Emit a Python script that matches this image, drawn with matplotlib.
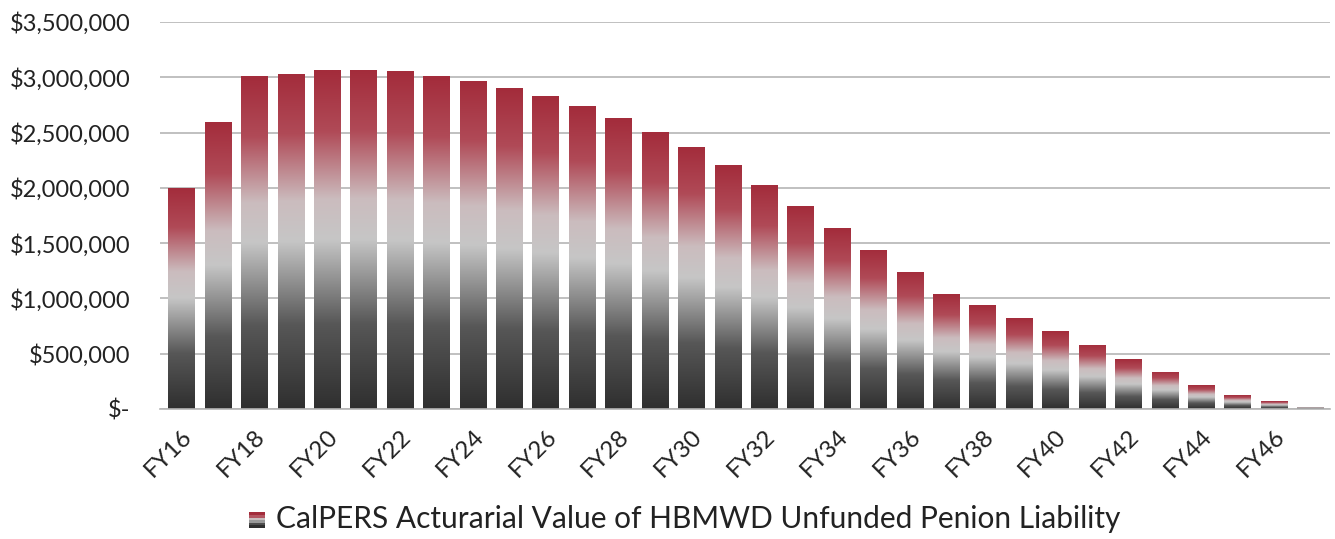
import numpy as np
import matplotlib
matplotlib.use("Agg")
import matplotlib.pyplot as plt
from matplotlib.colors import LinearSegmentedColormap
from matplotlib.patches import Rectangle
from matplotlib.legend_handler import HandlerBase
from matplotlib.ticker import FuncFormatter, MultipleLocator

plt.rcParams['font.family'] = ['Lato', 'DejaVu Sans']

years = [f"FY{y}" for y in range(16, 48)]
liability = [2000000, 2600000, 3010000, 3030000, 3065000, 3070000, 3055000, 3010000,
             2965000, 2900000, 2830000, 2740000, 2630000, 2505000, 2370000, 2205000,
             2025000, 1835000, 1635000, 1440000, 1240000, 1040000, 940000, 820000,
             705000, 580000, 450000, 335000, 215000, 125000, 70000, 20000]
legend_label = "CalPERS Acturarial Value of HBMWD Unfunded Penion Liability"

cmap = LinearSegmentedColormap.from_list(
    "grad", [(0.0, "#2f2f2f"), (0.25, "#575757"), (0.5, "#c6c6c6"),
             (0.62, "#cbbcbe"), (0.82, "#b04a57"), (1.0, "#a32c3b")])

fig = plt.figure(figsize=(13.35, 5.39), dpi=100)
ax = fig.add_axes([0.1195, 0.2412, 0.877, 0.7180])

x = np.arange(len(years))
bars = ax.bar(x, liability, width=0.72, color="none", edgecolor="none", zorder=2)
grad = np.linspace(0, 1, 256).reshape(-1, 1)
for b in bars:
    x0, y0 = b.get_x(), b.get_y()
    w, h = b.get_width(), b.get_height()
    im = ax.imshow(grad, cmap=cmap, origin="lower", aspect="auto",
                   extent=(x0, x0 + w, y0, y0 + h), zorder=2, interpolation="bilinear")
    im.set_clip_path(b)

ax.set_xlim(-0.6, len(years) - 1 + 0.55)
ax.set_ylim(0, 3500000)
ax.yaxis.set_major_locator(MultipleLocator(500000))
ax.yaxis.set_major_formatter(FuncFormatter(lambda v, p: "$-" if v == 0 else f"${v:,.0f}"))
ax.grid(axis="y", color="#b5b5b5", linewidth=1.2, zorder=0)
ax.set_axisbelow(True)
for s in ["top", "right", "left"]:
    ax.spines[s].set_visible(False)
ax.spines["bottom"].set_color("#b5b5b5")
ax.spines["bottom"].set_linewidth(1.2)
ax.tick_params(axis="y", length=0, labelsize=17, colors="#222222", pad=21)

ax.set_xticks(x[::2])
ax.set_xticklabels(years[::2], rotation=45, ha="right", rotation_mode="anchor")
ax.tick_params(axis="x", length=0, labelsize=17.5, colors="#222222", pad=12)


class GradHandler(HandlerBase):
    def create_artists(self, legend, orig_handle, xdescent, ydescent, width, height, fontsize, trans):
        arts = []
        n = 6
        side = height * 0.75
        x0 = xdescent + width - side
        for i in range(n):
            c = cmap(1 - i / (n - 1))
            r = Rectangle((x0, -ydescent + side * (n - 1 - i) / n), side, side / n,
                          facecolor=c, edgecolor="none", transform=trans)
            arts.append(r)
        return arts


handle = Rectangle((0, 0), 1, 1)
fig.legend([handle], [legend_label], handler_map={Rectangle: GradHandler()},
           loc="center", bbox_to_anchor=(0.512, 0.037), frameon=False, fontsize=21.5,
           handlelength=0.6, handletextpad=0.35, labelcolor="#222222")

fig.savefig("out.png", dpi=100)
